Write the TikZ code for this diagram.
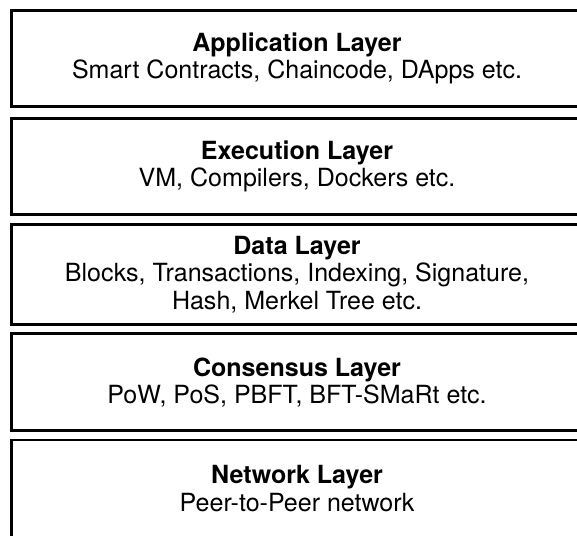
\documentclass[tikz,border=0pt]{standalone}
\usepackage{fontspec}
\setmainfont{TeX Gyre Heros}
\usetikzlibrary{positioning}

\begin{document}
\begin{tikzpicture}[
    layer/.style={rectangle, draw=black, line width=2.1pt, minimum width=14.275cm, align=center, inner sep=0pt, font=\fontsize{17.8}{19.4}\selectfont}
]

% Frame
\useasboundingbox (0,0) rectangle (14.425,13.4);
\clip (0,0) rectangle (14.425,13.4);

% Application layer
\node[layer, minimum height=2.4cm] (app) at (7.425, 11.94) {\textbf{Application Layer}\\Smart Contracts, Chaincode, DApps etc.};

% Execution layer
\node[layer, minimum height=2.41cm] (exec) at (7.425, 9.235) {\textbf{Execution Layer}\\VM, Compilers, Dockers etc.};

% Data layer
\node[layer, minimum height=2.51cm] (data) at (7.425, 6.535) {\textbf{Data Layer}\\Blocks, Transactions, Indexing, Signature,\\Hash, Merkel Tree etc.};

% Consensus layer
\node[layer, minimum height=2.425cm] (cons) at (7.425, 3.84) {\textbf{Consensus Layer}\\PoW, PoS, PBFT, BFT-SMaRt etc.};

% Network layer
\node[layer, minimum height=2.425cm] (net) at (7.425, 1.1875) {\textbf{Network Layer}\\Peer-to-Peer network};

\end{tikzpicture}
\end{document}
